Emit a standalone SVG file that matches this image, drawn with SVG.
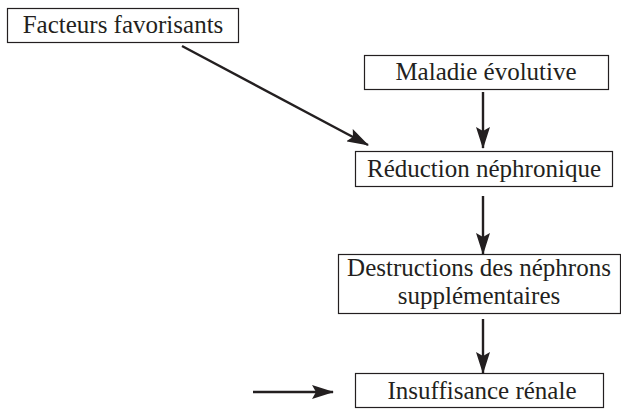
<svg xmlns="http://www.w3.org/2000/svg" width="621" height="409" viewBox="0 0 621 409">
<style>
.box{fill:#fff;stroke:#231f20;stroke-width:1.2}
.t{font-family:'Liberation Serif','DejaVu Serif','Times New Roman',serif;font-size:25px;fill:#231f20;text-anchor:middle}
.c{stroke:#231f20;stroke-width:2.4;fill:none}
</style>
<defs>
<marker id="ah" viewBox="0 0 22 14" refX="21" refY="7" markerWidth="22" markerHeight="14" markerUnits="userSpaceOnUse" orient="auto">
<path d="M0,0 L22,7 L0,14 L4,7 Z" fill="#231f20"/>
</marker>
</defs>
<rect width="621" height="409" fill="#fff"/>
<g id="connectors">
<line class="c" x1="182" y1="46" x2="368" y2="145" marker-end="url(#ah)"/>
<line class="c" x1="483" y1="92" x2="483" y2="148" marker-end="url(#ah)"/>
<line class="c" x1="483" y1="196" x2="483" y2="254" marker-end="url(#ah)"/>
<line class="c" x1="483" y1="319" x2="483" y2="373" marker-end="url(#ah)"/>
<line class="c" x1="253" y1="392" x2="333" y2="392" marker-end="url(#ah)"/>
</g>
<g id="facteurs">
<rect class="box" x="7.5" y="8.5" width="231" height="34"/>
<text class="t" x="123" y="33">Facteurs favorisants</text>
</g>
<g id="maladie">
<rect class="box" x="364.5" y="55.5" width="244" height="34"/>
<text class="t" x="486" y="80">Maladie évolutive</text>
</g>
<g id="reduction">
<rect class="box" x="355.5" y="151.5" width="257" height="35"/>
<text class="t" x="484" y="177">Réduction néphronique</text>
</g>
<g id="destructions">
<rect class="box" x="338.5" y="254.5" width="282" height="59"/>
<text class="t" x="479" y="276">Destructions des néphrons</text>
<text class="t" x="479" y="304">supplémentaires</text>
</g>
<g id="insuffisance">
<rect class="box" x="355.5" y="373.5" width="248" height="34"/>
<text class="t" x="482" y="399">Insuffisance rénale</text>
</g>
</svg>
